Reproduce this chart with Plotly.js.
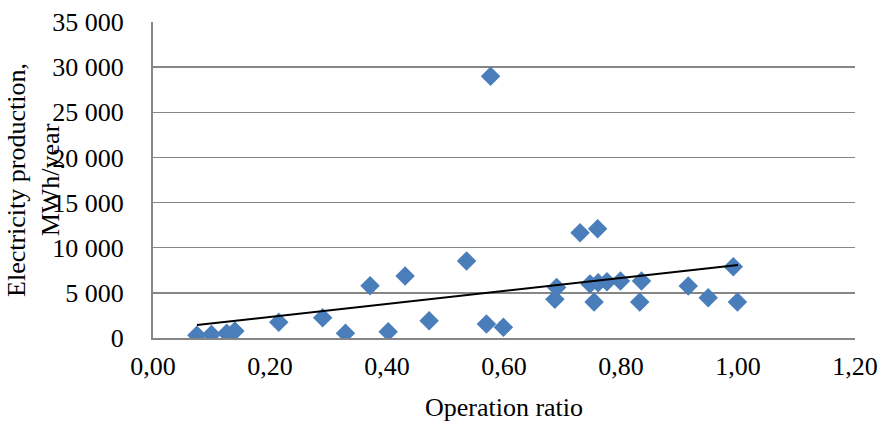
<!DOCTYPE html>
<html>
<head>
<meta charset="utf-8">
<script src="https://cdn.plot.ly/plotly-3.0.1.min.js"></script>
<style>html,body{margin:0;padding:0;background:#fff;}#chart{width:883px;height:423px;}</style>
</head>
<body>
<div id="chart"></div>
<script>
// Operation ratio (x) and electricity production, MWh/year (y)
var operationRatio = [0.075, 0.100, 0.126, 0.140, 0.215, 0.290, 0.329, 0.371, 0.402, 0.431, 0.472, 0.536, 0.570, 0.599, 0.577,
  0.730, 0.760, 0.690, 0.687, 0.747, 0.761, 0.776, 0.754, 0.799, 0.835, 0.832, 0.915, 0.949, 0.992, 0.999];
var production = [300, 400, 520, 780, 1750, 2250, 520, 5800, 700, 6870, 1920, 8530, 1550, 1180, 29000,
  11650, 12100, 5600, 4300, 5980, 6120, 6240, 4000, 6310, 6310, 4000, 5760, 4460, 7900, 3980];
// Linear trendline end points
var trendX = [0.075, 1.0];
var trendY = [1440, 8080];

var font = {family: '"Liberation Serif", "Times New Roman", serif', size: 26, color: '#000'};

var data = [
  {x: operationRatio, y: production, type: 'scatter', mode: 'markers',
   marker: {symbol: 'diamond', size: 15, color: '#4a7ebb', line: {width: 0}},
   showlegend: false, hoverinfo: 'x+y'},
  {x: trendX, y: trendY, type: 'scatter', mode: 'lines',
   line: {color: '#000', width: 2}, showlegend: false}
];

var layout = {
  width: 883, height: 423,
  margin: {l: 153, r: 28, t: 22, b: 85},
  paper_bgcolor: '#fff', plot_bgcolor: '#fff',
  font: font,
  separators: ', ',
  xaxis: {
    range: [0, 1.2], dtick: 0.2, tick0: 0, tickformat: '.2f',
    showgrid: false, zeroline: false, showline: true, linecolor: '#868686', linewidth: 2,
    ticks: '', ticklabelstandoff: 4,
    tickfont: font,
    title: {text: 'Operation ratio', font: font, standoff: 18}
  },
  yaxis: {
    range: [0, 35000], dtick: 5000, tick0: 0, tickformat: ',d',
    showgrid: true, gridcolor: '#868686', gridwidth: 1.5,
    zeroline: false, showline: true, linecolor: '#868686', linewidth: 2,
    ticks: '', ticklabelstandoff: 22,
    tickfont: font
  },
  annotations: [{
    text: 'Electricity production,<br>MWh/year', textangle: -90,
    xref: 'paper', yref: 'paper', x: -0.171, y: 0.5, xanchor: 'center', yanchor: 'middle',
    showarrow: false, font: font
  }]
};

Plotly.newPlot('chart', data, layout, {displayModeBar: false, staticPlot: true});
</script>
</body>
</html>
